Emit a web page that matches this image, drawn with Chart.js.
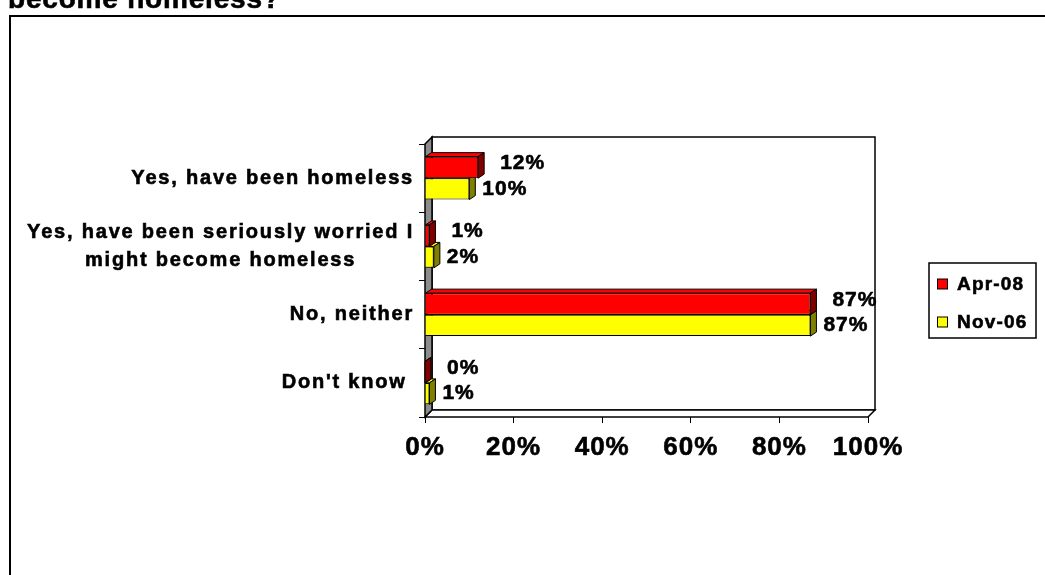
<!DOCTYPE html>
<html>
<head>
<meta charset="utf-8">
<script src="https://cdn.jsdelivr.net/npm/chart.js@4/dist/chart.umd.min.js"></script>
<style>
  html, body { margin: 0; padding: 0; background: #ffffff; }
  #wrap { width: 1045px; height: 575px; position: relative; }
</style>
</head>
<body>
<div id="wrap"><canvas id="c" width="1045" height="575"></canvas></div>
<script>
// Survey responses: ever been homeless or worried about becoming homeless
const titleText = 'become homeless?';
const categories = [
  'Yes, have been homeless',
  ['Yes, have been seriously worried I', 'might become homeless'],
  'No, neither',
  "Don't know "
];
const seriesNames = ['Apr-08', 'Nov-06'];
const apr08 = [12, 1, 87, 0];
const nov06 = [10, 2, 87, 1];
const xTicks = [0, 20, 40, 60, 80, 100];

const FRONT = ['#ff0000', '#ffff00'];
const SIDE = ['#800000', '#808000'];
const FONT = '"Liberation Sans", Arial, sans-serif';

// Depth offsets for the box walls and for the bars
const WALL_DX = 7, WALL_DY = 7;
const BAR_DX = 6, BAR_DY = 4;

function poly(ctx, pts, fill) {
  ctx.beginPath();
  ctx.moveTo(pts[0][0], pts[0][1]);
  for (let i = 1; i < pts.length; i++) ctx.lineTo(pts[i][0], pts[i][1]);
  ctx.closePath();
  if (fill) { ctx.fillStyle = fill; ctx.fill(); }
  ctx.stroke();
}

// heavy text: fill plus a thin outline
function heavyText(ctx, s, x, y) {
  ctx.fillText(s, x, y);
  ctx.strokeText(s, x, y);
}

const framePlugin = {
  id: 'frame',
  beforeDraw(chart) {
    const ctx = chart.ctx;
    ctx.letterSpacing = '1px';
    ctx.save();
    // outer border
    ctx.lineWidth = 2;
    ctx.strokeStyle = '#000';
    ctx.strokeRect(10, 16, 1100, 700);
    // title (only its last line is in view)
    ctx.fillStyle = '#000';
    ctx.lineWidth = 0.6;
    ctx.font = 'bold 28px ' + FONT;
    ctx.letterSpacing = '0.8px';
    ctx.textAlign = 'left';
    ctx.textBaseline = 'alphabetic';
    heavyText(ctx, titleText, 8, 8);
    ctx.restore();
  }
};

const boxPlugin = {
  id: 'box3d',
  beforeDatasetsDraw(chart) {
    const ctx = chart.ctx;
    const a = chart.chartArea;
    const L = a.left, R = a.right, T = a.top, B = a.bottom;
    ctx.save();
    ctx.strokeStyle = '#000';
    ctx.lineWidth = 1.5;
    ctx.lineJoin = 'miter';
    // back wall
    ctx.fillStyle = '#fff';
    ctx.fillRect(L + WALL_DX, T - WALL_DY, R - L, B - T);
    ctx.strokeRect(L + WALL_DX, T - WALL_DY, R - L, B - T);
    // floor
    poly(ctx, [[L, B], [R, B], [R + WALL_DX, B - WALL_DY], [L + WALL_DX, B - WALL_DY]], '#fff');
    // side wall
    poly(ctx, [[L, T], [L + WALL_DX, T - WALL_DY], [L + WALL_DX, B - WALL_DY], [L, B]], '#8c8c8c');
    // bar depth faces (top and right), drawn behind the front faces
    ctx.lineWidth = 1;
    for (let d = chart.data.datasets.length - 1; d >= 0; d--) {
      const meta = chart.getDatasetMeta(d);
      meta.data.forEach(el => {
        const p = el.getProps(['x', 'y', 'base', 'height'], true);
        const top = p.y - p.height / 2, bot = p.y + p.height / 2;
        const x0 = Math.min(p.base, p.x), x1 = Math.max(p.base, p.x);
        poly(ctx, [[x0, top], [x1, top], [x1 + BAR_DX, top - BAR_DY], [x0 + BAR_DX, top - BAR_DY]], FRONT[d]);
        poly(ctx, [[x1, top], [x1 + BAR_DX, top - BAR_DY], [x1 + BAR_DX, bot - BAR_DY], [x1, bot]], SIDE[d]);
      });
    }
    ctx.restore();
  },
  afterDatasetsDraw(chart) {
    const ctx = chart.ctx;
    ctx.save();
    ctx.fillStyle = '#000';
    ctx.strokeStyle = '#000';
    ctx.lineWidth = 0.6;
    ctx.font = 'bold 21px ' + FONT;
    ctx.letterSpacing = '1px';
    ctx.textAlign = 'left';
    ctx.textBaseline = 'middle';
    const off = [[22, -4], [13, 0]];
    chart.data.datasets.forEach((ds, d) => {
      chart.getDatasetMeta(d).data.forEach((el, i) => {
        const p = el.getProps(['x', 'y'], true);
        heavyText(ctx, ds.data[i] + '%', p.x + off[d][0], p.y + off[d][1]);
      });
    });

    // category labels, right aligned block, lines centred inside it
    const ys = chart.scales.y;
    ctx.font = 'bold 20px ' + FONT;
    ctx.letterSpacing = '1.8px';
    ctx.textAlign = 'center';
    const rightEdge = 414;
    const lineH = 28;
    categories.forEach((lab, i) => {
      const lines = Array.isArray(lab) ? lab : [lab];
      const w = Math.max(...lines.map(s => ctx.measureText(s).width));
      const cx = rightEdge - w / 2;
      const yc = ys.getPixelForValue(i);
      lines.forEach((s, k) => {
        heavyText(ctx, s, cx, yc + (k - (lines.length - 1) / 2) * lineH);
      });
    });

    // legend
    const lx = 929, ly = 263, lw = 107, lh = 75;
    ctx.lineWidth = 1.5;
    ctx.strokeRect(lx, ly, lw, lh);
    ctx.textAlign = 'left';
    ctx.font = 'bold 19px ' + FONT;
    ctx.letterSpacing = '1.2px';
    seriesNames.forEach((name, d) => {
      const yc = 284 + d * 38;
      ctx.lineWidth = 1;
      ctx.fillStyle = FRONT[d];
      ctx.fillRect(937.5, yc - 5, 10, 10);
      ctx.strokeRect(937.5, yc - 5, 10, 10);
      ctx.fillStyle = '#000';
      ctx.lineWidth = 0.6;
      heavyText(ctx, name, 957, yc + 1);
    });
    ctx.restore();
  }
};

new Chart(document.getElementById('c'), {
  type: 'bar',
  data: {
    labels: categories,
    datasets: [
      { label: seriesNames[0], data: apr08, backgroundColor: FRONT[0], borderColor: '#000', borderWidth: 1 },
      { label: seriesNames[1], data: nov06, backgroundColor: FRONT[1], borderColor: '#000', borderWidth: 1 }
    ]
  },
  options: {
    indexAxis: 'y',
    responsive: false,
    animation: false,
    events: [],
    categoryPercentage: 0.63,
    barPercentage: 1.0,
    layout: { padding: { left: 419, right: 177, top: 144, bottom: 98 } },
    plugins: { legend: { display: false }, title: { display: false }, tooltip: { enabled: false } },
    scales: {
      x: {
        type: 'linear',
        min: 0, max: 100,
        afterBuildTicks: s => { s.ticks = xTicks.map(v => ({ value: v })); },
        afterFit: s => { s.height = 60; },
        ticks: {
          color: '#000',
          padding: 9,
          maxRotation: 0,
          textStrokeColor: '#000',
          textStrokeWidth: 0.6,
          font: { family: FONT, size: 26, weight: 'bold' },
          callback: v => v + '%'
        },
        grid: { drawOnChartArea: false, drawTicks: true, tickLength: 6, color: '#000', lineWidth: 1 },
        border: { display: false }
      },
      y: {
        type: 'category',
        afterFit: s => { s.width = 6; },
        ticks: { display: false },
        grid: { drawOnChartArea: false, drawTicks: true, tickLength: 6, color: '#000', lineWidth: 1, offset: true },
        border: { display: false }
      }
    }
  },
  plugins: [framePlugin, boxPlugin]
});
</script>
</body>
</html>
